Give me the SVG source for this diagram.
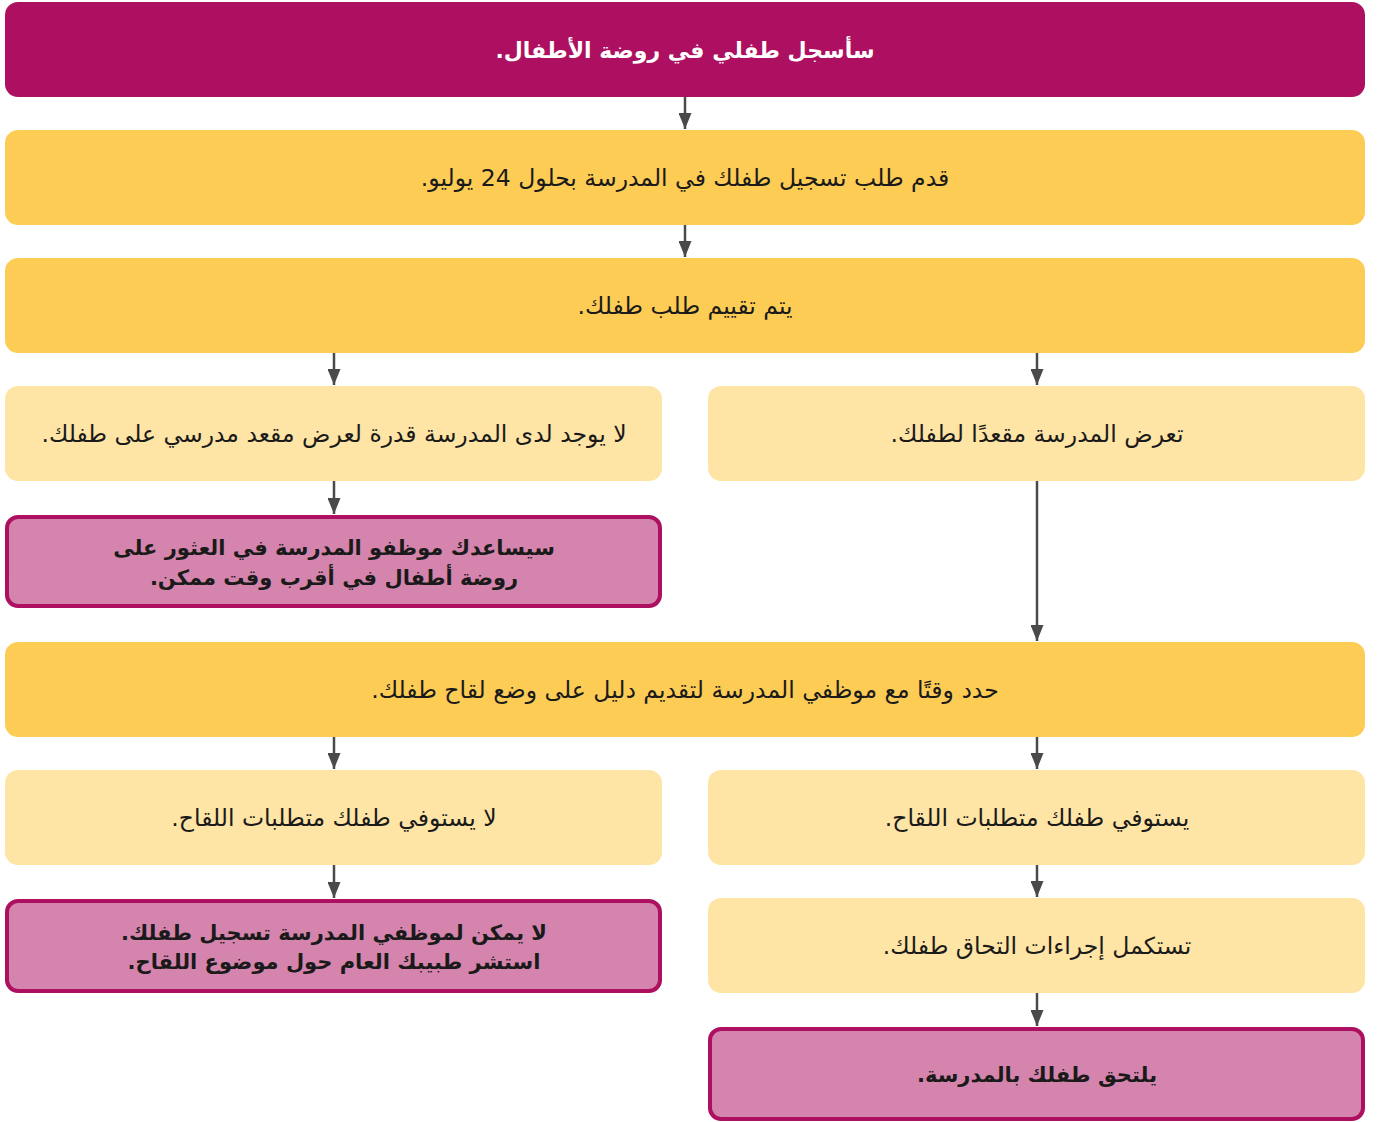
<svg xmlns="http://www.w3.org/2000/svg" width="1377" height="1122" viewBox="0 0 1377 1122">
<style>
.dark{fill:#AD1060}
.mid{fill:#FDCC55}
.light{fill:#FEE4A5}
.pink{fill:#D585AD;stroke:#AD1060;stroke-width:4}
text{font-family:"DejaVu Sans","Noto Sans",sans-serif;font-size:23.5px;text-anchor:middle;direction:rtl;fill:#1a1a1a}
.w{fill:#ffffff;font-weight:bold;font-size:22px}
.b{font-weight:bold;font-size:21px}
.conn line{stroke:#4a4a4a;stroke-width:2.5}
</style>
<defs>
<marker id="ah" viewBox="0 0 16 13" refX="16" refY="6.5" markerWidth="16" markerHeight="13" markerUnits="userSpaceOnUse" orient="auto">
<path d="M0,0 L16,6.5 L0,13 z" fill="#4a4a4a"/>
</marker>
</defs>
<rect width="1377" height="1122" fill="#ffffff"/>
<g class="conn">
<line x1="685" y1="97" x2="685" y2="129" marker-end="url(#ah)"/>
<line x1="685" y1="225" x2="685" y2="257" marker-end="url(#ah)"/>
<line x1="334" y1="353" x2="334" y2="385" marker-end="url(#ah)"/>
<line x1="1037" y1="353" x2="1037" y2="385" marker-end="url(#ah)"/>
<line x1="334" y1="481" x2="334" y2="514" marker-end="url(#ah)"/>
<line x1="1037" y1="481" x2="1037" y2="641" marker-end="url(#ah)"/>
<line x1="334" y1="737" x2="334" y2="769" marker-end="url(#ah)"/>
<line x1="1037" y1="737" x2="1037" y2="769" marker-end="url(#ah)"/>
<line x1="334" y1="865" x2="334" y2="898" marker-end="url(#ah)"/>
<line x1="1037" y1="865" x2="1037" y2="897" marker-end="url(#ah)"/>
<line x1="1037" y1="993" x2="1037" y2="1026" marker-end="url(#ah)"/>
</g>
<g id="n1"><rect class="dark" x="5" y="2" width="1360" height="95" rx="13"/><text class="w" x="685" y="58">سأسجل طفلي في روضة الأطفال.</text></g>
<g id="n2"><rect class="mid" x="5" y="130" width="1360" height="95" rx="13"/><text x="685" y="186">قدم طلب تسجيل طفلك في المدرسة بحلول 24 يوليو.</text></g>
<g id="n3"><rect class="mid" x="5" y="258" width="1360" height="95" rx="13"/><text x="685" y="314">يتم تقييم طلب طفلك.</text></g>
<g id="n4"><rect class="light" x="5" y="386" width="657" height="95" rx="13"/><text x="334" y="442">لا يوجد لدى المدرسة قدرة لعرض مقعد مدرسي على طفلك.</text></g>
<g id="n5"><rect class="light" x="708" y="386" width="657" height="95" rx="13"/><text x="1037" y="442">تعرض المدرسة مقعدًا لطفلك.</text></g>
<g id="n6"><rect class="pink" x="7" y="517" width="653" height="89" rx="11"/><text class="b" x="334" y="555">سيساعدك موظفو المدرسة في العثور على</text><text class="b" x="334" y="585">روضة أطفال في أقرب وقت ممكن.</text></g>
<g id="n7"><rect class="mid" x="5" y="642" width="1360" height="95" rx="13"/><text x="685" y="698">حدد وقتًا مع موظفي المدرسة لتقديم دليل على وضع لقاح طفلك.</text></g>
<g id="n8"><rect class="light" x="5" y="770" width="657" height="95" rx="13"/><text x="334" y="826">لا يستوفي طفلك متطلبات اللقاح.</text></g>
<g id="n9"><rect class="light" x="708" y="770" width="657" height="95" rx="13"/><text x="1037" y="826">يستوفي طفلك متطلبات اللقاح.</text></g>
<g id="n10"><rect class="pink" x="7" y="901" width="653" height="90" rx="11"/><text class="b" x="334" y="940">لا يمكن لموظفي المدرسة تسجيل طفلك.</text><text class="b" x="334" y="969">استشر طبيبك العام حول موضوع اللقاح.</text></g>
<g id="n11"><rect class="light" x="708" y="898" width="657" height="95" rx="13"/><text x="1037" y="954">تستكمل إجراءات التحاق طفلك.</text></g>
<g id="n12"><rect class="pink" x="710" y="1029" width="653" height="90" rx="11"/><text class="b" x="1037" y="1082">يلتحق طفلك بالمدرسة.</text></g>
</svg>
